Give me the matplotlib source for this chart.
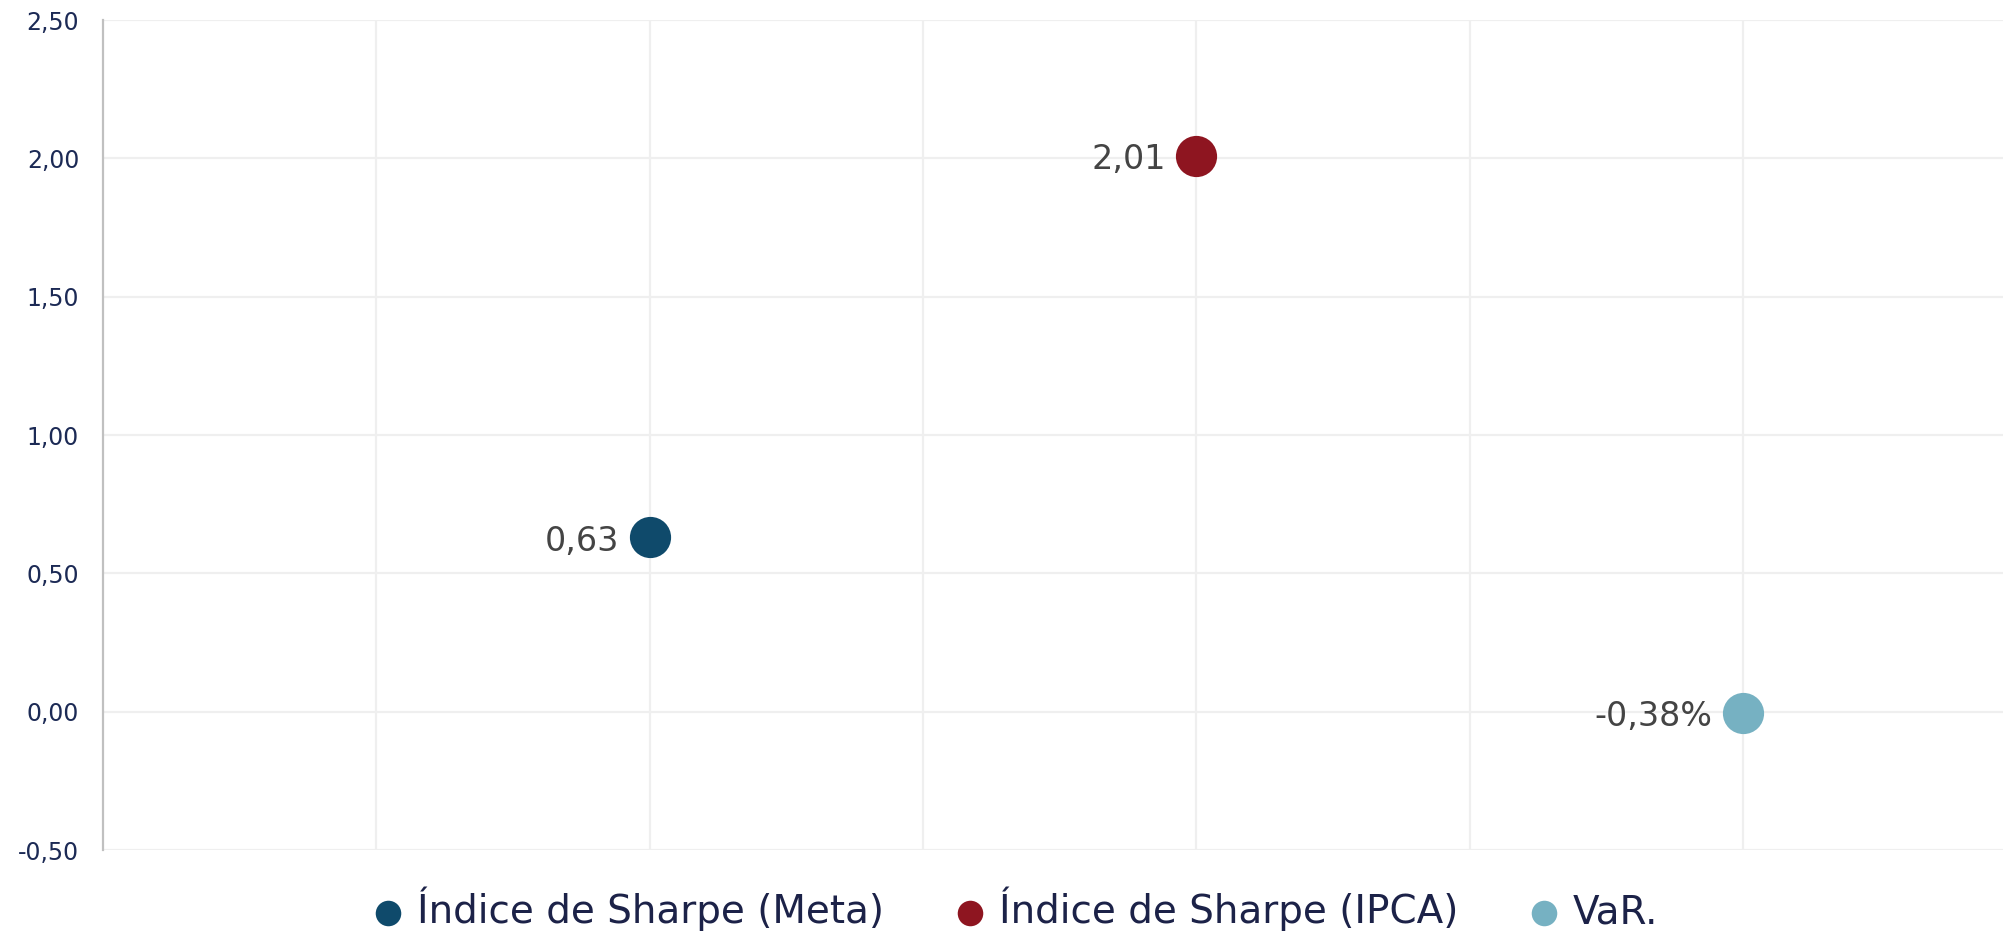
import matplotlib
matplotlib.use("Agg")
from matplotlib import pyplot as plt

names = ["Índice de Sharpe (Meta)", "Índice de Sharpe (IPCA)", "VaR."]
x_pos = [2, 4, 6]
values = [0.63, 2.01, -0.0038]
labels = ["0,63", "2,01", "-0,38%"]
colors = ["#0f4a6b", "#8e1520", "#76b1c2"]

y_ticks = [-0.5, 0.0, 0.5, 1.0, 1.5, 2.0, 2.5]
y_tick_labels = ["-0,50", "0,00", "0,50", "1,00", "1,50", "2,00", "2,50"]

fig = plt.figure(figsize=(20.03, 9.35), dpi=100)
ax = fig.add_axes([0.0513, 0.0909, 0.9487, 0.8877])

for x, y, name, c, lab in zip(x_pos, values, names, colors, labels):
    ax.scatter([x], [y], s=880, color=c, label=name, zorder=3, linewidths=0)
    ax.annotate(lab, (x, y), xytext=(-22, -3), textcoords="offset points",
                ha="right", va="center", fontsize=24, color="#444444",
                family="DejaVu Sans")

ax.set_xlim(0, 6.95)
ax.set_ylim(-0.5, 2.5)
ax.set_xticks(range(1, 7))
ax.set_xticklabels([])
ax.set_yticks(y_ticks)
ax.set_yticklabels(y_tick_labels, fontsize=17, color="#1c2a55",
                   family="DejaVu Sans")
ax.tick_params(axis="both", length=0)
ax.tick_params(axis="y", pad=17)
ax.grid(True, color="#efefef", linewidth=1.6)
ax.set_axisbelow(True)

for s in ["top", "right", "bottom"]:
    ax.spines[s].set_visible(False)
ax.spines["left"].set_color("#c0c0c0")
ax.spines["left"].set_linewidth(1.6)

leg = fig.legend(loc="center", bbox_to_anchor=(0.506, 0.028), ncol=3,
                 frameon=False, markerscale=0.62, handletextpad=0.25,
                 columnspacing=1.7, handlelength=1.0,
                 prop={"family": "DejaVu Sans", "size": 28})
for t in leg.get_texts():
    t.set_color("#1c2248")

fig.savefig("out.png", dpi=100)
